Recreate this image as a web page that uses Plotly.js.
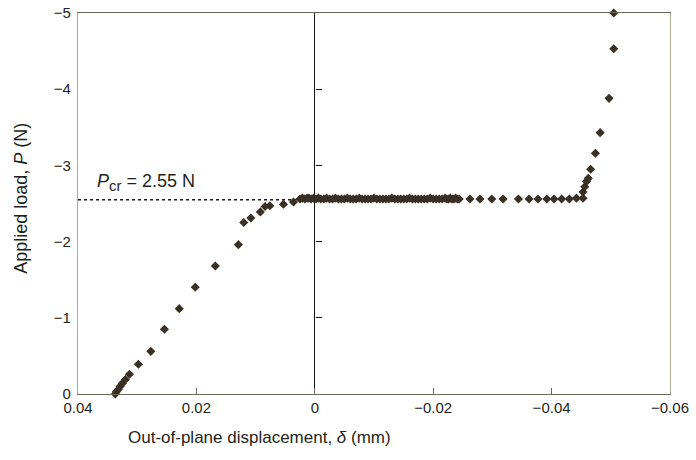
<!DOCTYPE html>
<html>
<head>
<meta charset="utf-8">
<script src="https://cdn.plot.ly/plotly-3.0.1.min.js"></script>
<style>html,body{margin:0;padding:0;background:#fff;}#chart{width:696px;height:460px;}</style>
</head>
<body>
<div id="chart"></div>
<script>
// Out-of-plane displacement (mm)
const displacement = [
  0.0337, 0.0335, 0.0332, 0.0329, 0.0325, 0.0320, 0.0313, 0.0298, 0.0277, 0.0254,
  0.0229, 0.0202, 0.0168, 0.0129, 0.0120, 0.0108, 0.0092, 0.0084, 0.0076, 0.0053,
  0.0036,
  0.0025, 0.0021, 0.0017, 0.0013, 0.0010, 0.0006, 0.0002, -0.0002, -0.0006, -0.0010,
  -0.0015, -0.0020, -0.0025, -0.0030, -0.0035, -0.0040, -0.0045, -0.0050, -0.0055, -0.0060,
  -0.0065, -0.0070, -0.0075, -0.0080, -0.0085, -0.0090, -0.0095, -0.0100, -0.0105, -0.0110,
  -0.0115, -0.0120, -0.0125, -0.0130, -0.0135, -0.0140, -0.0145, -0.0150, -0.0155, -0.0160,
  -0.0165, -0.0170, -0.0175, -0.0180, -0.0185, -0.0190, -0.0195, -0.0200, -0.0205, -0.0210,
  -0.0215, -0.0220, -0.0223, -0.0226, -0.0229, -0.0232, -0.0235, -0.0238, -0.0241, -0.0244,
  -0.0262, -0.0279, -0.0299, -0.0318, -0.0344, -0.0362, -0.0377, -0.0392, -0.0404, -0.0417,
  -0.0430, -0.0442,
  -0.0453, -0.0453, -0.0456, -0.0459, -0.0462, -0.0466, -0.0474, -0.0482, -0.0497, -0.0505,
  -0.0505
];
// Applied load (N)
const load = [
  0.00, -0.03, -0.06, -0.10, -0.14, -0.19, -0.26, -0.39, -0.56, -0.85,
  -1.12, -1.40, -1.68, -1.96, -2.25, -2.31, -2.39, -2.46, -2.47, -2.49,
  -2.52,
  -2.56, -2.57, -2.56, -2.57, -2.57, -2.56, -2.57, -2.56, -2.57, -2.56,
  -2.56, -2.57, -2.56, -2.56, -2.57, -2.56, -2.56, -2.56, -2.57, -2.56,
  -2.56, -2.56, -2.57, -2.56, -2.56, -2.56, -2.56, -2.57, -2.56, -2.56,
  -2.56, -2.56, -2.56, -2.57, -2.56, -2.56, -2.56, -2.56, -2.56, -2.57,
  -2.56, -2.56, -2.56, -2.56, -2.56, -2.56, -2.57, -2.56, -2.56, -2.56,
  -2.56, -2.57, -2.56, -2.56, -2.57, -2.56, -2.56, -2.57, -2.56, -2.56,
  -2.56, -2.56, -2.56, -2.56, -2.56, -2.56, -2.56, -2.56, -2.56, -2.56,
  -2.56, -2.57,
  -2.57, -2.65, -2.72, -2.79, -2.83, -2.95, -3.16, -3.43, -3.88, -4.53,
  -5.00
];
// Critical load reference line
const pcrLineX = [0.04, 0.0026];
const pcrLineY = [-2.55, -2.55];
const pcrLabel = '<i>P</i><sub><span style="font-size:15px">cr</span></sub> = 2.55 N';

const xTicks = [0.04, 0.02, 0, -0.02, -0.04, -0.06];
const xTickText = ['0.04', '0.02', '0', '\u22120.02', '\u22120.04', '\u22120.06'];
const yTicks = [0, -1, -2, -3, -4, -5];
const yTickText = ['0', '\u22121', '\u22122', '\u22123', '\u22124', '\u22125'];

const textColor = '#231f20';
const markerColor = '#3a2f23';
const font = 'Liberation Sans, Arial, Helvetica, sans-serif';

const traces = [
  {
    x: pcrLineX, y: pcrLineY, type: 'scatter', mode: 'lines',
    line: {color: '#1a1a1a', width: 1.6, dash: 'dot'},
    hoverinfo: 'skip', showlegend: false
  },
  {
    x: displacement, y: load, type: 'scatter', mode: 'markers',
    marker: {symbol: 'diamond', size: 7, color: markerColor},
    cliponaxis: false, showlegend: false
  },
  // invisible trace on yaxis2 so its ticks on the zero line are drawn
  {x: [0], y: [null], yaxis: 'y2', type: 'scatter', mode: 'markers', showlegend: false, hoverinfo: 'skip'}
];

const layout = {
  width: 696, height: 460,
  margin: {l: 78, r: 26, t: 13, b: 66},
  paper_bgcolor: '#ffffff', plot_bgcolor: '#ffffff',
  font: {family: font, size: 15, color: textColor},
  showlegend: false,
  xaxis: {
    range: [0.04, -0.06], tickvals: xTicks, ticktext: xTickText,
    showgrid: false, zeroline: true, zerolinecolor: '#111111', zerolinewidth: 1.2,
    showline: true, linecolor: '#6f6757', linewidth: 1.2, mirror: true,
    ticks: 'inside', ticklen: 6, tickcolor: '#6f6757', tickwidth: 1,
    tickfont: {size: 15, color: textColor}
  },
  yaxis: {
    range: [0, -5], tickvals: yTicks, ticktext: yTickText,
    showgrid: false, zeroline: false,
    showline: true, linecolor: '#b3a993', linewidth: 1.2, mirror: true,
    ticks: '', tickfont: {size: 15, color: textColor}, ticklabelstandoff: 3
  },
  yaxis2: {
    range: [0, -5], tickvals: yTicks, overlaying: 'y', anchor: 'free', position: 0.4,
    side: 'left', showgrid: false, zeroline: false, showline: false,
    ticks: 'inside', ticklen: 6, tickcolor: '#111111', tickwidth: 1,
    showticklabels: false
  },
  annotations: [
    {
      x: 0.0371, y: -2.77, xref: 'x', yref: 'y', text: pcrLabel,
      showarrow: false, xanchor: 'left', yanchor: 'middle',
      font: {size: 18, color: textColor}
    },
    {
      x: 0.306, y: -0.115, xref: 'paper', yref: 'paper',
      text: 'Out-of-plane displacement, <i>\u03b4</i> (mm)',
      showarrow: false, xanchor: 'center', yanchor: 'middle',
      font: {size: 17, color: textColor}
    },
    {
      x: -0.0963, y: 0.515, xref: 'paper', yref: 'paper',
      text: 'Applied load, <i>P</i> (N)', textangle: -90,
      showarrow: false, xanchor: 'center', yanchor: 'middle',
      font: {size: 18, color: textColor}
    }
  ]
};

Plotly.newPlot('chart', traces, layout, {staticPlot: true, displayModeBar: false});
</script>
</body>
</html>
